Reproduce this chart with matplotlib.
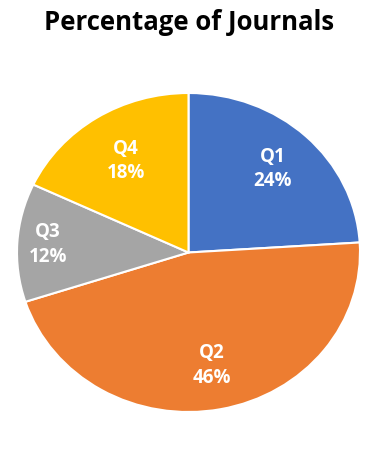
import numpy as np
import matplotlib
matplotlib.use("Agg")
import matplotlib.pyplot as plt

quartiles = ["Q1", "Q2", "Q3", "Q4"]
shares = [24, 46, 12, 18]
colors = ["#4472C4", "#ED7D31", "#A5A5A5", "#FFC000"]
# how far from the centre each label sits (fraction of radius)
label_dist = [0.72, 0.72, 0.82, 0.68]

fig = plt.figure(figsize=(3.78, 4.51), dpi=100)
W, H = 378, 451
# the pie in the reference is a little wider than tall
cx, cy, rx, ry = 188.5, 451 - 252.5, 171.5, 159.5
ax = fig.add_axes([(cx - rx) / W, (cy - ry) / H, 2 * rx / W, 2 * ry / H])

wedges, _ = ax.pie(shares, colors=colors, startangle=90, counterclock=False,
                   radius=1, wedgeprops=dict(edgecolor="white", linewidth=1.5))
ax.set_xlim(-1, 1)
ax.set_ylim(-1, 1)
ax.set_aspect("auto")
ax.axis("off")

for w, q, s, d in zip(wedges, quartiles, shares, label_dist):
    ang = np.deg2rad((w.theta1 + w.theta2) / 2)
    ax.text(d * np.cos(ang), d * np.sin(ang), f"{q}\n{s}%", ha="center", va="center",
            color="white", fontsize=13.5, fontweight="bold", family="Open Sans",
            linespacing=1.3)

fig.text(0.5, 1 - 23 / H, "Percentage of Journals", ha="center", va="center",
         fontsize=18.5, fontweight="bold", family="Open Sans")

fig.savefig("out.png", dpi=100)
